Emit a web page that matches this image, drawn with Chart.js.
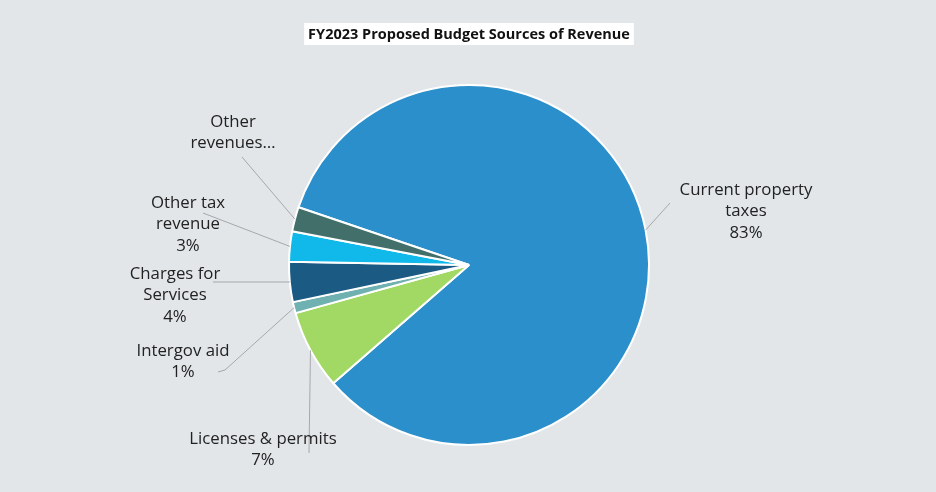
<!DOCTYPE html>
<html lang="en">
<head>
    <meta charset="UTF-8">
    <title>FY2023 Proposed Budget Sources of Revenue</title>
    <script src="https://cdn.jsdelivr.net/npm/chart.js"></script>
    <style>
        body {
            margin: 0;
            padding: 0;
            background-color: #e2e6e9;
        }

        #chart-box {
            width: 936px;
            height: 492px;
        }
    </style>
</head>
<body>
    <div id="chart-box">
        <canvas id="revenueChart"></canvas>
    </div>

    <script>
        // Data
        const categories = ['Current property taxes', 'Licenses & permits', 'Intergov aid',
                            'Charges for Services', 'Other tax revenue', 'Other revenues'];
        const shares = [83.4, 7.1, 1.0, 3.6, 2.7, 2.2];
        const labelLines = [
            ['Current property', 'taxes', '83%'],
            ['Licenses & permits', '7%'],
            ['Intergov aid', '1%'],
            ['Charges for', 'Services', '4%'],
            ['Other tax', 'revenue', '3%'],
            ['Other', 'revenues\u2026']
        ];
        const sliceColors = ['#2a8fca', '#a2d965', '#6fb1b0', '#1b5a82', '#10b9ea', '#436f6a'];

        // Where each label sits, relative to the pie centre (px)
        const labelPlacement = [
            { leader: [[201, -62]], text: [277, -75] },
            { leader: [[-160, 188]], text: [-206, 174] },
            { leader: [[-244, 105], [-251, 107]], text: [-286, 86] },
            { leader: [[-256, 17]], text: [-294, 9] },
            { leader: [[-266, -52]], text: [-281, -62] },
            { leader: [[-227, -108]], text: [-236, -143] }
        ];

        const FONT = '"Open Sans", "Lato", sans-serif';

        // Title with white box behind it
        const titlePlugin = {
            id: 'boxTitle',
            afterDraw(chart) {
                const ctx = chart.ctx;
                const text = 'FY2023 Proposed Budget Sources of Revenue';
                ctx.save();
                ctx.font = 'bold 14.5px ' + FONT;
                const w = ctx.measureText(text).width;
                ctx.fillStyle = '#ffffff';
                ctx.fillRect(469 - w / 2 - 4, 23, w + 8, 22);
                ctx.fillStyle = '#111111';
                ctx.textAlign = 'center';
                ctx.textBaseline = 'middle';
                ctx.fillText(text, 469, 34.5);
                ctx.restore();
            }
        };

        // Outside labels with leader lines
        const outsideLabels = {
            id: 'outsideLabels',
            afterDatasetsDraw(chart) {
                const ctx = chart.ctx;
                const arcs = chart.getDatasetMeta(0).data;
                ctx.save();
                arcs.forEach((arc, i) => {
                    const p = arc.getProps(['x', 'y', 'startAngle', 'endAngle', 'outerRadius'], true);
                    const mid = (p.startAngle + p.endAngle) / 2;
                    const place = labelPlacement[i];

                    ctx.beginPath();
                    ctx.moveTo(p.x + Math.cos(mid) * p.outerRadius, p.y + Math.sin(mid) * p.outerRadius);
                    place.leader.forEach(pt => ctx.lineTo(p.x + pt[0], p.y + pt[1]));
                    ctx.strokeStyle = '#a5a8ab';
                    ctx.lineWidth = 1;
                    ctx.stroke();

                    ctx.font = '16.8px ' + FONT;
                    ctx.fillStyle = '#222222';
                    ctx.textAlign = 'center';
                    ctx.textBaseline = 'middle';
                    labelLines[i].forEach((line, k) => {
                        ctx.fillText(line, p.x + place.text[0], p.y + place.text[1] + k * 21.5);
                    });
                });
                ctx.restore();
            }
        };

        const ctx = document.getElementById('revenueChart').getContext('2d');
        const revenueChart = new Chart(ctx, {
            type: 'pie',
            data: {
                labels: categories,
                datasets: [{
                    data: shares,
                    backgroundColor: sliceColors,
                    borderColor: '#ffffff',
                    borderWidth: 2,
                    hoverOffset: 0
                }]
            },
            options: {
                responsive: true,
                maintainAspectRatio: false,
                animation: false,
                rotation: 288.7,
                layout: {
                    padding: { top: 84, bottom: 46, left: 2, right: 0 }
                },
                plugins: {
                    legend: { display: false },
                    tooltip: { enabled: false }
                }
            },
            plugins: [titlePlugin, outsideLabels]
        });
    </script>
</body>
</html>
